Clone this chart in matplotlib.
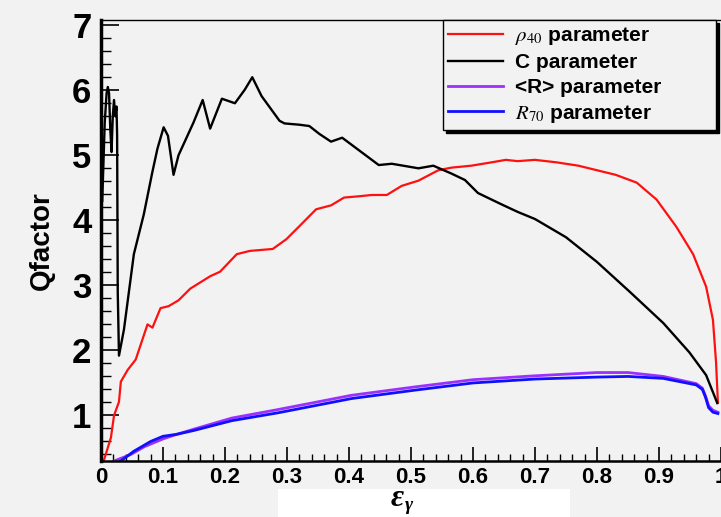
import matplotlib
matplotlib.use("Agg")
import matplotlib.pyplot as plt
from matplotlib.ticker import MultipleLocator
from matplotlib.patches import Rectangle

# ---- data ----
eps_rho40 = [0.003, 0.005, 0.016, 0.021, 0.029, 0.032, 0.043, 0.056, 0.075, 0.083, 0.096,
             0.109, 0.125, 0.144, 0.176, 0.192, 0.219, 0.24, 0.277, 0.299, 0.32, 0.347,
             0.371, 0.392, 0.416, 0.437, 0.461, 0.485, 0.512, 0.544, 0.565, 0.597, 0.629,
             0.653, 0.672, 0.70, 0.736, 0.77, 0.80, 0.83, 0.864, 0.896, 0.928, 0.955,
             0.976, 0.987, 0.992, 0.995]
q_rho40 = [0.3, 0.32, 0.66, 1.0, 1.21, 1.52, 1.70, 1.86, 2.40, 2.35, 2.65,
           2.68, 2.77, 2.95, 3.14, 3.21, 3.48, 3.53, 3.56, 3.71, 3.91, 4.17,
           4.23, 4.35, 4.37, 4.39, 4.39, 4.53, 4.61, 4.77, 4.81, 4.84, 4.89,
           4.93, 4.91, 4.93, 4.89, 4.84, 4.77, 4.70, 4.58, 4.32, 3.90, 3.48,
           2.98, 2.47, 1.82, 1.20]

eps_C = [0.002, 0.006, 0.009, 0.011, 0.013, 0.015, 0.017, 0.019, 0.021, 0.023, 0.025,
         0.026, 0.027, 0.029, 0.037, 0.053, 0.069, 0.083, 0.091, 0.101, 0.108, 0.117,
         0.125, 0.149, 0.164, 0.176, 0.195, 0.216, 0.232, 0.244, 0.259, 0.288, 0.296,
         0.32, 0.336, 0.352, 0.371, 0.389, 0.448, 0.469, 0.512, 0.536, 0.565, 0.587,
         0.608, 0.645, 0.672, 0.70, 0.75, 0.80, 0.853, 0.907, 0.949, 0.976, 0.989, 0.994]
q_C = [4.3, 5.5, 5.95, 6.05, 5.95, 5.4, 5.05, 5.6, 5.85, 5.6, 5.75,
       5.3, 2.9, 1.92, 2.32, 3.48, 4.09, 4.75, 5.1, 5.43, 5.30, 4.70,
       5.0, 5.5, 5.85, 5.41, 5.87, 5.80, 6.01, 6.20, 5.91, 5.53, 5.49,
       5.47, 5.45, 5.33, 5.21, 5.27, 4.85, 4.87, 4.80, 4.84, 4.72, 4.62,
       4.42, 4.25, 4.13, 4.02, 3.74, 3.36, 2.90, 2.42, 1.97, 1.62, 1.31, 1.19]

eps_Rmean = [0.021, 0.048, 0.07, 0.1, 0.122, 0.15, 0.211, 0.285, 0.35, 0.404, 0.507,
             0.6, 0.7, 0.8, 0.85, 0.907, 0.96, 0.97, 0.975, 0.98, 0.987, 0.995]
q_Rmean = [0.3, 0.40, 0.52, 0.64, 0.71, 0.79, 0.96, 1.09, 1.21, 1.31, 1.44,
           1.55, 1.61, 1.66, 1.66, 1.60, 1.49, 1.42, 1.30, 1.15, 1.08, 1.05]

eps_R70 = [0.032, 0.053, 0.08, 0.1, 0.122, 0.15, 0.211, 0.285, 0.35, 0.404, 0.507,
           0.6, 0.7, 0.8, 0.85, 0.907, 0.96, 0.97, 0.975, 0.98, 0.987, 0.995]
q_R70 = [0.3, 0.45, 0.60, 0.68, 0.71, 0.77, 0.92, 1.04, 1.16, 1.26, 1.39,
         1.50, 1.56, 1.59, 1.60, 1.57, 1.47, 1.40, 1.28, 1.12, 1.05, 1.03]

labels = [r"$\rho_{40}$ parameter", "C parameter", "<R> parameter", r"$R_{70}$ parameter"]
xticks = [0, 0.1, 0.2, 0.3, 0.4, 0.5, 0.6, 0.7, 0.8, 0.9, 1.0]
xticklabels = ["0", "0.1", "0.2", "0.3", "0.4", "0.5", "0.6", "0.7", "0.8", "0.9", "1"]
yticks = [1, 2, 3, 4, 5, 6, 7]

plt.rcParams["font.family"] = ["Liberation Sans", "DejaVu Sans"]
plt.rcParams["mathtext.fontset"] = "stix"

bg = "#f2f2f2"
fig = plt.figure(figsize=(7.21, 5.17), dpi=100, facecolor=bg)

# white patch behind the x-axis title (as in the reference image)
fig.patches.append(Rectangle((278 / 721, 0), 292 / 721, 28 / 517,
                             transform=fig.transFigure, facecolor="white",
                             edgecolor="none", zorder=0))

ax = fig.add_axes([101 / 721, 1 - 461 / 517, 620 / 721, 441 / 517])
ax.set_facecolor(bg)

ax.plot(eps_rho40, q_rho40, color="#ff1010", lw=1.6, label=labels[0])
ax.plot(eps_C, q_C, color="black", lw=1.7, label=labels[1])
ax.plot(eps_Rmean, q_Rmean, color="#9b30ff", lw=2.0, label=labels[2])
ax.plot(eps_R70, q_R70, color="#1010ff", lw=2.0, label=labels[3])

ax.set_xlim(0, 0.992)
ax.set_ylim(0.3, 7.08)

ax.set_xticks(xticks)
ax.set_xticklabels(xticklabels)
ax.set_yticks(yticks)
ax.xaxis.set_minor_locator(MultipleLocator(0.02))
ax.yaxis.set_minor_locator(MultipleLocator(0.2))

ax.tick_params(axis="x", which="major", direction="in", length=10, width=1.2,
               labelsize=16, pad=4)
ax.tick_params(axis="x", which="minor", direction="in", length=5, width=1.0)
ax.tick_params(axis="y", which="major", direction="in", length=13, width=1.2,
               labelsize=25, pad=7)
ax.tick_params(axis="y", which="minor", direction="in", length=7, width=1.0)
for lab in ax.get_xticklabels() + ax.get_yticklabels():
    lab.set_fontweight("bold")

ax.spines["left"].set_linewidth(2.5)
ax.spines["bottom"].set_linewidth(1.8)
ax.spines["top"].set_linewidth(1.0)
ax.spines["right"].set_visible(False)

ax.set_ylabel("Qfactor", fontsize=20, fontweight="bold", labelpad=12)

# x-axis title: bold italic serif epsilon with gamma subscript
fig.text(397 / 721, 1 - 499 / 517, "ε", fontsize=23, family="Liberation Serif",
         fontweight="bold", fontstyle="italic", ha="center", va="center")
fig.text(405 / 721, 1 - 506 / 517, "γ", fontsize=14, family="Liberation Serif",
         fontweight="bold", fontstyle="italic", ha="left", va="center")

leg = ax.legend(loc="upper left", bbox_to_anchor=(0.552, 1.0, 0.44, 0.0),
                mode="expand", fancybox=False, frameon=True, edgecolor="black",
                facecolor=bg, framealpha=1, prop=dict(weight="bold", size=15),
                handlelength=2.6, handletextpad=0.6, labelspacing=0.28,
                borderpad=0.25, borderaxespad=0,
                shadow={"color": "black", "alpha": 1.0})
leg.get_frame().set_linewidth(1.0)

fig.savefig("out.png", dpi=100, facecolor=bg)
